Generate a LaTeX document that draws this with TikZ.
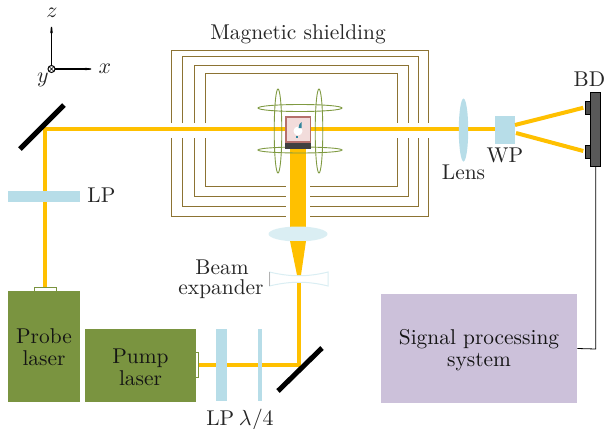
\documentclass[tikz,border=0pt]{standalone}
\usetikzlibrary{arrows.meta}
\definecolor{beam}{HTML}{FFC000}
\definecolor{optic}{HTML}{B7DDE8}
\definecolor{optlight}{HTML}{DAEEF3}
\definecolor{lasergreen}{HTML}{7A9440}
\definecolor{shield}{HTML}{8C7333}
\definecolor{coil}{HTML}{7F9A41}
\definecolor{sigbox}{HTML}{CCC1DA}
\definecolor{cellfill}{HTML}{F2DCDB}
\definecolor{celledge}{HTML}{B5706B}
\definecolor{markcol}{HTML}{31859C}
\tikzset{
  x=0.5pt,y=-0.5pt,
  beamline/.style={draw=beam,line width=2pt,line join=miter},
  mirror/.style={draw=black,line width=2.5pt},
  opticbox/.style={fill=optic,draw=none,inner sep=0pt,outer sep=0pt,minimum width=#1},
  laserbox/.style={fill=lasergreen,draw=none,inner sep=0pt,outer sep=0pt},
  shieldline/.style={draw=shield,line width=0.5pt},
  coilline/.style={draw=coil,line width=0.45pt},
  axis/.style={draw=black,line width=0.6pt,-{Stealth[length=9pt,width=1.8pt]}},
  lab/.style={inner sep=0pt,align=center,text=black!85,font=\fontsize{10.7}{11}\selectfont},
  darklab/.style={lab,text=black!92},
}
\begin{document}
\begin{tikzpicture}
\useasboundingbox (0,0) rectangle (606,429);
% axes
\coordinate (o) at (51.5,69);
\node[lab] (zl) at (52,13) {$z$};
\node[lab] (xl) at (105,69) {$x$};
\node[lab] (yl) at (43,80) {$y$};
\coordinate (zt) at (51.5,21);
\coordinate (xt) at (97,69);
\draw[axis] (o) -- (zt);
\draw[axis] (o) -- (xt);
\draw[line width=0.5pt,fill=white] (o) circle (3.5);
\draw[line width=0.35pt] (49,66.5) -- (54,71.5) (49,71.5) -- (54,66.5);
% shielding
\node[lab] (ms) at (298,34) {Magnetic shielding};
\foreach \a/\b/\c/\d in {171/428/50/216,182/418/56/206,194/408/65/196,205/397/73/186}{
  \draw[shieldline] (\a,123) -- (\a,\c) -- (\b,\c) -- (\b,123);
  \draw[shieldline] (\a,138) -- (\a,\d) -- (286,\d);
  \draw[shieldline] (\b,138) -- (\b,\d) -- (310,\d);
}
% lasers
\node[draw=lasergreen,fill=white,line width=0.3pt,minimum width=11pt,minimum height=2.5pt,inner sep=0pt] (ptab) at (45,290) {};
\node[draw=lasergreen,fill=white,line width=0.3pt,minimum width=1.5pt,minimum height=12.5pt,inner sep=0pt] (ltab) at (197,365) {};
\node[laserbox,minimum width=36pt,minimum height=55.5pt] (probe) at (44,346) {};
\node[darklab] (probet) at (44,347.5) {Probe\\laser};
\node[laserbox,minimum width=55.5pt,minimum height=36.5pt] (pump) at (140.5,365.3) {};
\node[darklab] (pumpt) at (140.5,367) {Pump\\laser};
% signal
\node[fill=sigbox,inner sep=0pt,minimum width=98pt,minimum height=54.5pt] (sig) at (479,348.5) {};
\node[darklab] (sigt) at (479,350.5) {Signal processing\\system};
% beams
\coordinate (m1) at (45,129);
\coordinate (m2) at (299,365);
\coordinate (cellL) at (290,129);
\coordinate (cellR) at (308,129);
\coordinate (wpL) at (498,129);
\coordinate (exp) at (299,283);
\draw[beamline] (ptab.north) -- (m1) -- (cellL);
\draw[beamline] (cellR) -- (wpL);
\draw[beamline] (ltab.east) -- (m2) -- (exp);
\fill[beam] (290,144) rectangle (306,228);
% mirrors
\coordinate (ma) at (20,149); \coordinate (mb) at (64,105);
\coordinate (mc) at (278,391); \coordinate (md) at (322,348);
\draw[mirror] (ma) -- (mb);
\draw[mirror] (mc) -- (md);
% optics on the beam
\node[opticbox=36pt,minimum height=5.5pt] (lp1) at (44,196.5) {};
\node[lab,anchor=west] (lp1t) at (87,195) {LP};
\node[opticbox=5.5pt,minimum height=36pt] (lp2) at (221.5,365) {};
\node[opticbox=2pt,minimum height=36pt] (qw) at (260,365) {};
\node[lab] (lpqw) at (240,420) {LP\hspace{0.22em}$\lambda/4$};
% expander
\fill[optlight] (298,234) ellipse (29.5 and 7.5);
\fill[white,draw=optlight,line width=0.5pt] (269.5,272) .. controls (290,277) and (308,277) .. (328,272) -- (328,286) .. controls (308,281) and (290,281) .. (269.5,286) -- cycle;
\draw[black!30,line width=0.5pt] (269.5,272) -- (269.5,286);
\fill[beam] (290,241) -- (306,241) -- (301,275) -- (297,275) -- cycle;
\node[lab] (be1) at (222,267) {Beam};
\node[lab] (be2) at (221,289) {expander};
% coils back
\draw[coilline] (300,108) ellipse (42 and 3.5);
\draw[coilline] (300,150) ellipse (42 and 3);
\draw[coilline] (278,131) ellipse (3.8 and 42);
\draw[coilline] (319,131) ellipse (3.8 and 42);
% cell
\fill[black!75] (285,120) rectangle (311,149);
\draw[draw=celledge,fill=cellfill,line width=0.7pt] (286,117) rectangle (310.5,142);
\fill[white] (298,131) circle (4.5);
\fill[markcol] (298.5,128) -- (299.5,124) -- (301.5,122) -- (301.5,128) -- cycle;
\fill[markcol] (296,136) rectangle (298,138);
% right optics
\fill[optic] (463.5,130) ellipse (4.7 and 31.5);
\node[lab] (lens) at (463.5,172) {Lens};
\node[fill=optic,inner sep=0pt,minimum width=10pt,minimum height=14pt] (wp) at (504.5,130) {};
\node[lab] (wpt) at (505,155) {WP};
\node[draw=black,fill=black!65,line width=0.4pt,inner sep=0pt,minimum width=5pt,minimum height=37pt] (bd) at (595.7,129.3) {};
\node[draw=black,fill=black!70,line width=0.3pt,inner sep=0pt,minimum width=2.5pt,minimum height=6.5pt] (d1) at (588,107.3) {};
\node[draw=black,fill=black!70,line width=0.3pt,inner sep=0pt,minimum width=2.5pt,minimum height=6.5pt] (d2) at (588,151.5) {};
\node[lab,anchor=east] (bdt) at (605.5,79) {BD};
\draw[beamline,shorten >=1pt] (515,125) -- (d1.west);
\draw[beamline,shorten >=1pt] (516,133) -- (d2.west);
\draw[line width=0.4pt] (bd.south) -- (595.7,349) -- (sig.east);
\end{tikzpicture}
\end{document}
